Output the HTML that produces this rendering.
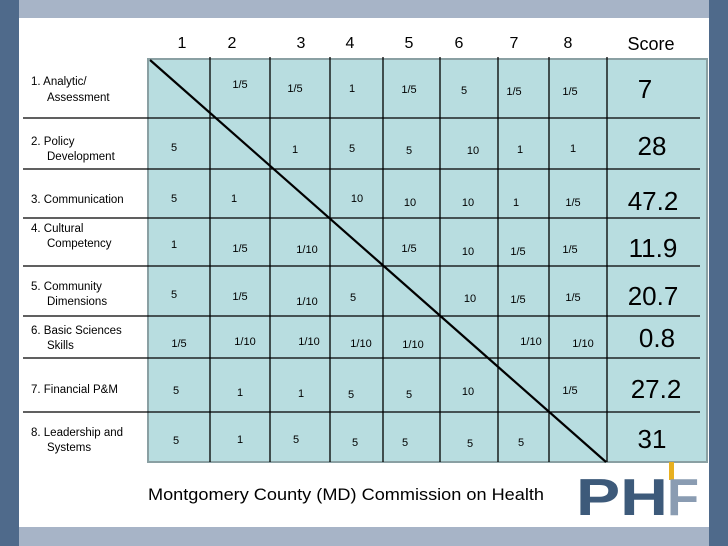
<!DOCTYPE html>
<html><head><meta charset="utf-8"><style>
html,body{margin:0;padding:0;width:728px;height:546px;overflow:hidden;background:#fff}
svg{display:block}
</style></head><body>
<svg width="728" height="546" viewBox="0 0 728 546" xmlns="http://www.w3.org/2000/svg" font-family="Liberation Sans, sans-serif">
<rect x="0" y="0" width="728" height="546" fill="#fff"/>
<rect x="19" y="0" width="709" height="18" fill="#a7b4c7"/>
<rect x="19" y="527" width="690" height="19" fill="#a7b4c7"/>
<rect x="0" y="0" width="19" height="546" fill="#4f6a8b"/>
<rect x="709" y="0" width="19" height="546" fill="#4f6a8b"/>
<rect x="148" y="59" width="559" height="403" fill="#b8dde0"/>
<rect x="148" y="59" width="559" height="403" fill="none" stroke="#8aa0a3" stroke-width="2"/>
<g stroke="#000" stroke-width="1.3">
<line x1="23" y1="118" x2="700" y2="118"/>
<line x1="23" y1="169" x2="700" y2="169"/>
<line x1="23" y1="218" x2="700" y2="218"/>
<line x1="23" y1="266" x2="700" y2="266"/>
<line x1="23" y1="316" x2="700" y2="316"/>
<line x1="23" y1="358" x2="700" y2="358"/>
<line x1="23" y1="412" x2="700" y2="412"/>
<line x1="210" y1="57" x2="210" y2="462"/>
<line x1="270" y1="57" x2="270" y2="462"/>
<line x1="330" y1="57" x2="330" y2="462"/>
<line x1="383" y1="57" x2="383" y2="462"/>
<line x1="440" y1="57" x2="440" y2="462"/>
<line x1="498" y1="57" x2="498" y2="462"/>
<line x1="549" y1="57" x2="549" y2="462"/>
<line x1="607" y1="57" x2="607" y2="462"/>
</g>
<line x1="150" y1="60" x2="606" y2="462" stroke="#000" stroke-width="2.2"/>
<g font-size="16" text-anchor="middle" fill="#000">
<text x="182" y="48">1</text><text x="232" y="48">2</text><text x="301" y="48">3</text><text x="350" y="48">4</text>
<text x="409" y="48">5</text><text x="459" y="48">6</text><text x="514" y="48">7</text><text x="568" y="48">8</text>
<text x="651" y="50" font-size="18">Score</text>
</g>
<g font-size="11.5" fill="#000">
<text x="31" y="85">1.  Analytic/</text><text x="47" y="101">Assessment</text>
<text x="31" y="145">2. Policy</text><text x="47" y="160">Development</text>
<text x="31" y="203">3. Communication</text>
<text x="31" y="232">4. Cultural</text><text x="47" y="247">Competency</text>
<text x="31" y="290">5. Community</text><text x="47" y="305">Dimensions</text>
<text x="31" y="334">6. Basic Sciences</text><text x="47" y="349">Skills</text>
<text x="31" y="393">7. Financial P&amp;M</text>
<text x="31" y="436">8. Leadership and</text><text x="47" y="451">Systems</text>
</g>
<g font-size="11" text-anchor="middle" fill="#000">
<text x="240" y="88">1/5</text><text x="295" y="92">1/5</text><text x="352" y="92">1</text><text x="409" y="93">1/5</text><text x="464" y="94">5</text><text x="514" y="95">1/5</text><text x="570" y="95">1/5</text>
<text x="174" y="151">5</text><text x="295" y="153">1</text><text x="352" y="152">5</text><text x="409" y="154">5</text><text x="473" y="154">10</text><text x="520" y="153">1</text><text x="573" y="152">1</text>
<text x="174" y="202">5</text><text x="234" y="202">1</text><text x="357" y="202">10</text><text x="410" y="206">10</text><text x="468" y="206">10</text><text x="516" y="206">1</text><text x="573" y="206">1/5</text>
<text x="174" y="248">1</text><text x="240" y="252">1/5</text><text x="307" y="253">1/10</text><text x="409" y="252">1/5</text><text x="468" y="255">10</text><text x="518" y="255">1/5</text><text x="570" y="253">1/5</text>
<text x="174" y="298">5</text><text x="240" y="300">1/5</text><text x="307" y="305">1/10</text><text x="353" y="301">5</text><text x="470" y="302">10</text><text x="518" y="303">1/5</text><text x="573" y="301">1/5</text>
<text x="179" y="347">1/5</text><text x="245" y="345">1/10</text><text x="309" y="345">1/10</text><text x="361" y="347">1/10</text><text x="413" y="348">1/10</text><text x="531" y="345">1/10</text><text x="583" y="347">1/10</text>
<text x="176" y="394">5</text><text x="240" y="396">1</text><text x="301" y="397">1</text><text x="351" y="398">5</text><text x="409" y="398">5</text><text x="468" y="395">10</text><text x="570" y="394">1/5</text>
<text x="176" y="444">5</text><text x="240" y="443">1</text><text x="296" y="443">5</text><text x="355" y="446">5</text><text x="405" y="446">5</text><text x="470" y="447">5</text><text x="521" y="446">5</text>
</g>
<g font-size="26" text-anchor="middle" fill="#000">
<text x="645" y="98">7</text><text x="652" y="155">28</text><text x="653" y="210">47.2</text><text x="653" y="257">11.9</text>
<text x="653" y="305">20.7</text><text x="657" y="347">0.8</text><text x="656" y="398">27.2</text><text x="652" y="448">31</text>
</g>
<text x="148" y="500" font-size="17" fill="#000" textLength="396" lengthAdjust="spacingAndGlyphs">Montgomery County (MD) Commission on Health</text>
<g>
<rect x="669" y="462" width="5" height="18" fill="#e8b020"/>
<text x="576" y="515" font-size="52" font-weight="bold" fill="#3d5a7a" textLength="92" lengthAdjust="spacingAndGlyphs">PH</text>
<text x="667" y="515" font-size="52" font-weight="bold" fill="#8a9cb2" textLength="32" lengthAdjust="spacingAndGlyphs">F</text>
</g>
</svg>
</body></html>
